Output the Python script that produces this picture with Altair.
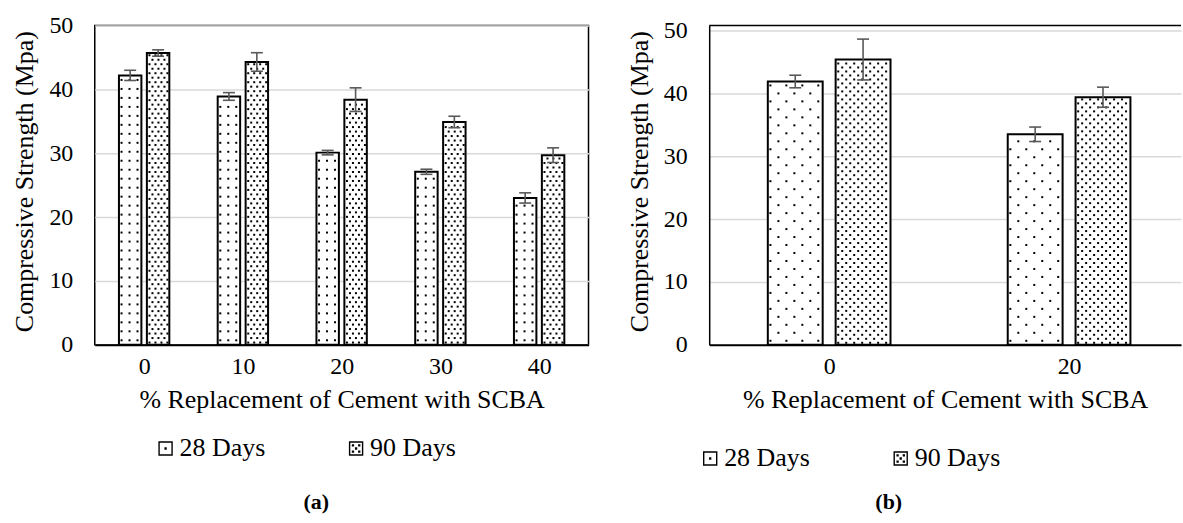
import altair as alt
import pandas as pd

# Compressive strength (MPa) of concrete with sugar-cane bagasse ash (SCBA)
series = ["28 Days", "90 Days"]

# (a) replacement levels 0-40 %
replacement_a = [0, 10, 20, 30, 40]
mean_28_a = [42.2, 38.9, 30.1, 27.1, 23.0]
err_28_a = [0.8, 0.6, 0.35, 0.4, 0.8]
mean_90_a = [45.7, 44.3, 38.4, 34.9, 29.7]
err_90_a = [0.5, 1.45, 1.85, 0.9, 1.15]

# (b) replacement levels 0 and 20 %
replacement_b = [0, 20]
mean_28_b = [41.9, 33.5]
err_28_b = [1.0, 1.15]
mean_90_b = [45.4, 39.4]
err_90_b = [3.25, 1.6]

FONT = "Liberation Serif"
GRID = "#d9d9d9"
ERR = "#595959"

# legend swatches: outlined square with one dot / five dots
SYM_28 = "M-1,-1H1V1H-1Z M-0.07,-0.07H0.07V0.07H-0.07Z"
SYM_90 = ("M-1,-1H1V1H-1Z M-0.07,-0.07H0.07V0.07H-0.07Z "
          "M-0.55,-0.55H-0.41V-0.41H-0.55Z M0.41,-0.55H0.55V-0.41H0.41Z "
          "M-0.55,0.41H-0.41V0.55H-0.55Z M0.41,0.41H0.55V0.55H0.41Z")


def table(cats, m28, e28, m90, e90):
    rows = []
    for c, m, e in zip(cats, m28, e28):
        rows.append({"cat": c, "series": series[0], "value": m, "err": e})
    for c, m, e in zip(cats, m90, e90):
        rows.append({"cat": c, "series": series[1], "value": m, "err": e})
    return pd.DataFrame(rows)


def panel(df, cats, width, height, xdom, ydom, bar_px, gap_px, patterns,
          framed, legend_xy, caption, caption_xy):
    ux = (xdom[1] - xdom[0]) / width      # data units per pixel, x
    uy = (ydom[1] - ydom[0]) / height     # data units per pixel, y
    half_gap = gap_px / 2 * ux
    bw = bar_px * ux
    lo_expr = (f"datum.series == '{series[0]}' ? datum.cat - {half_gap + bw} "
               f": datum.cat + {half_gap}")
    hi_expr = (f"datum.series == '{series[0]}' ? datum.cat - {half_gap} "
               f": datum.cat + {half_gap + bw}")
    mid_expr = "(datum.lo + datum.hi) / 2"

    xscale = alt.Scale(domain=list(xdom), nice=False, zero=False)
    yscale = alt.Scale(domain=list(ydom), nice=False)

    x_axis = alt.Axis(values=cats, format="d", grid=False, ticks=False,
                      domain=True, domainColor="black", domainWidth=2,
                      labelFont=FONT, labelFontSize=24, labelColor="black",
                      labelPadding=10,
                      title="% Replacement of Cement with SCBA",
                      titleFont=FONT, titleFontSize=26, titleFontWeight="normal",
                      titleColor="black", titleY=55, titleBaseline="middle")
    y_axis = alt.Axis(values=[0, 10, 20, 30, 40, 50], grid=True,
                      gridColor=GRID, gridWidth=1.5, ticks=False,
                      domain=not framed, domainColor="black", domainWidth=1.5,
                      labelFont=FONT, labelFontSize=24, labelColor="black",
                      labelPadding=22,
                      title="Compressive Strength (Mpa)",
                      titleFont=FONT, titleFontSize=26, titleFontWeight="normal",
                      titleColor="black", titleX=-70, titleY=height / 2 - 4,
                      titleBaseline="middle", titleAlign="center")

    base = alt.Chart(df).transform_calculate(lo=lo_expr, hi=hi_expr).transform_calculate(
        mid=mid_expr, elo="datum.value - datum.err", ehi="datum.value + datum.err")

    bars = base.mark_rect(fill="white", stroke="black", strokeWidth=2).encode(
        x=alt.X("lo:Q", scale=xscale, axis=x_axis),
        x2="hi:Q",
        y=alt.Y("value:Q", scale=yscale, axis=y_axis),
        y2=alt.datum(0),
    )

    layers = [bars]
    # dotted fills, one stipple per age
    for name, (dx, dy, stag, dsize) in zip(series, patterns):
        y0 = dy / 2 * uy
        m = 2.6 * ux
        d = (base.transform_filter(alt.datum.series == name)
             .transform_calculate(ry=f"sequence({y0}, datum.value - {1.6 * uy}, {dy * uy})")
             .transform_flatten(["ry"])
             .transform_calculate(ri=f"round((datum.ry - {y0}) / {dy * uy})")
             .transform_calculate(
                 rx=f"sequence(datum.lo + {m} + (datum.ri % 2) * {stag * ux}, "
                    f"datum.hi - {m * 0.6}, {dx * ux})")
             .transform_flatten(["rx"])
             .mark_square(size=dsize, color="black", opacity=1)
             .encode(x="rx:Q", y="ry:Q"))
        layers.append(d)

    cap = 6 * ux
    layers.append(base.mark_rule(color=ERR, strokeWidth=1.6).encode(
        x="mid:Q", y="elo:Q", y2="ehi:Q"))
    for end in ("elo", "ehi"):
        layers.append(base.transform_calculate(
            c1=f"datum.mid - {cap}", c2=f"datum.mid + {cap}"
        ).mark_rule(color=ERR, strokeWidth=1.6).encode(
            x="c1:Q", x2="c2:Q", y=f"{end}:Q"))

    if not framed:
        layers.append(alt.Chart(pd.DataFrame({"top": [ydom[1]]})).mark_rule(
            color="black", strokeWidth=1.5).encode(
            y="top:Q", x=alt.value(0), x2=alt.value(width)))

    # legend only: the layer draws no points, the scale domain lists both ages
    layers.append(base.transform_filter("false").mark_point(
        size=170, color="black", strokeWidth=1.4, opacity=1,
        filled=False).encode(
        x="mid:Q", y="value:Q",
        shape=alt.Shape("series:N",
                        scale=alt.Scale(domain=series, range=[SYM_28, SYM_90]),
                        legend=alt.Legend(
                            title=None, orient="none", direction="horizontal",
                            legendX=legend_xy[0], legendY=legend_xy[1],
                            symbolSize=170, symbolStrokeColor="black",
                            symbolStrokeWidth=1.4, symbolOpacity=1,
                            labelFont=FONT, labelFontSize=26,
                            labelColor="black", labelOffset=1,
                            columnPadding=78, padding=0))))

    layers.append(alt.Chart(pd.DataFrame({"t": [caption]})).mark_text(
        font=FONT, fontSize=22, fontWeight="bold", color="black").encode(
        text="t:N", x=alt.value(caption_xy[0]), y=alt.value(caption_xy[1])))

    view = (alt.ViewBackground(stroke="black", strokeWidth=1.5) if framed
            else alt.ViewBackground(stroke="transparent"))
    return alt.layer(*layers).properties(width=width, height=height, view=view)


df_a = table(replacement_a, mean_28_a, err_28_a, mean_90_a, err_90_a)
df_b = table(replacement_b, mean_28_b, err_28_b, mean_90_b, err_90_b)

left = panel(df_a, replacement_a, 495, 320, (-5, 45), (0, 50), 22.5, 5.5,
             [(8, 9, 0, 4), (6, 4.5, 3, 4)], True, (58, 411), "(a)", (222, 478))
right = panel(df_b, replacement_b, 473, 320, (-10, 29.33), (0, 50.8), 55, 13,
              [(16, 8, 8, 4), (8, 4, 4, 4)], False, (-12, 421), "(b)", (180, 478))

chart = alt.hconcat(left, right, spacing=121, bounds="flush").resolve_scale(
    shape="independent", x="independent", y="independent"
).resolve_legend(shape="independent").properties(
    padding={"left": 11, "top": 12, "right": 0, "bottom": 0}
).configure(background="white")

chart.save("out.html", embed_options={"renderer": "svg", "actions": False})
